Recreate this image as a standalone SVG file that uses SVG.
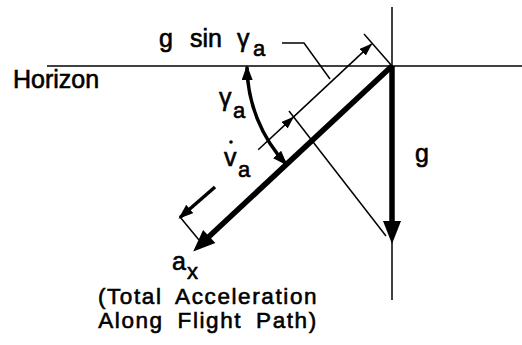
<svg xmlns="http://www.w3.org/2000/svg" width="522" height="345" viewBox="0 0 522 345">
<style>
  .thin { stroke: #000; stroke-width: 1.5; fill: none; }
  .med { stroke: #000; stroke-width: 3.5; fill: none; }
  .thick { stroke: #000; stroke-width: 5.5; fill: none; }
  .lbl { font-family: "Liberation Sans", Arial, sans-serif; font-size: 25px; fill: #000; stroke: #000; stroke-width: 0.6; }
  .sub { font-family: "Liberation Sans", Arial, sans-serif; font-size: 22px; fill: #000; stroke: #000; stroke-width: 0.6; }
  .cap { font-family: "Liberation Sans", Arial, sans-serif; font-size: 22.5px; fill: #000; stroke: #000; stroke-width: 0.6; letter-spacing: 1.6px; word-spacing: 6px; }
</style>
<defs>
  <marker id="ah" markerUnits="userSpaceOnUse" markerWidth="13" markerHeight="9" refX="12" refY="4.5" orient="auto-start-reverse">
    <path d="M0,0 L13,4.5 L0,9 z" fill="#000"/>
  </marker>
  <marker id="ahm" markerUnits="userSpaceOnUse" markerWidth="15" markerHeight="11" refX="13" refY="5.5" orient="auto-start-reverse">
    <path d="M0,0 L15,5.5 L0,11 z" fill="#000"/>
  </marker>
</defs>
<rect width="522" height="345" fill="#fff"/>

<g id="connectors">
  <line class="thin" x1="47" y1="66" x2="522" y2="66"/>
  <line class="thin" x1="392" y1="7" x2="392" y2="300"/>
  <line class="thick" x1="392" y1="66" x2="392" y2="226" stroke-width="5"/>
  <polygon points="383,221 401,221 392,244" fill="#000"/>
  <line class="thick" x1="392" y1="66" x2="208" y2="237.5" stroke-width="6"/>
  <polygon points="193.2,251.5 215.4,243.1 203.1,229.9" fill="#000"/>
  <line class="thin" x1="258.2" y1="149.8" x2="293.3" y2="117.1" marker-end="url(#ah)"/>
  <line class="thin" x1="293.3" y1="117.1" x2="371.5" y2="44.1" marker-end="url(#ah)"/>
  <line class="thin" x1="364" y1="34" x2="392" y2="66"/>
  <line class="thin" x1="289" y1="111" x2="386" y2="236"/>
  <line class="med" x1="215" y1="187" x2="180" y2="217.5" marker-end="url(#ahm)"/>
  <line class="thin" x1="180" y1="217" x2="199" y2="240"/>
  <path class="med" stroke-width="2.5" d="M247,67 A145,145 0 0 0 286,164" marker-start="url(#ahm)" marker-end="url(#ahm)"/>
  <polyline class="thin" points="282,43 304,43 330,79"/>
</g>

<g id="label-horizon">
  <text class="lbl" x="13" y="88">Horizon</text>
</g>
<g id="label-gsin">
  <text class="lbl" x="159" y="47">g</text>
  <text class="lbl" x="190" y="47">sin</text>
  <text class="lbl" x="237" y="47">γ</text>
  <text class="sub" x="253" y="56">a</text>
</g>
<g id="label-gamma">
  <text class="lbl" x="219" y="106">γ</text>
  <text class="sub" x="233" y="118">a</text>
</g>
<g id="label-vdot">
  <text class="lbl" x="224" y="166">v</text>
  <circle cx="231" cy="142" r="1.8" fill="#000"/>
  <text class="sub" x="238" y="177">a</text>
</g>
<g id="label-g">
  <text class="lbl" x="415" y="162">g</text>
</g>
<g id="label-ax">
  <text class="lbl" x="172" y="270">a</text>
  <text class="sub" x="187" y="279" font-size="20">x</text>
  <text class="cap" x="208" y="304" text-anchor="middle">(Total Acceleration</text>
  <text class="cap" x="208" y="328" text-anchor="middle">Along Flight Path)</text>
</g>
</svg>
